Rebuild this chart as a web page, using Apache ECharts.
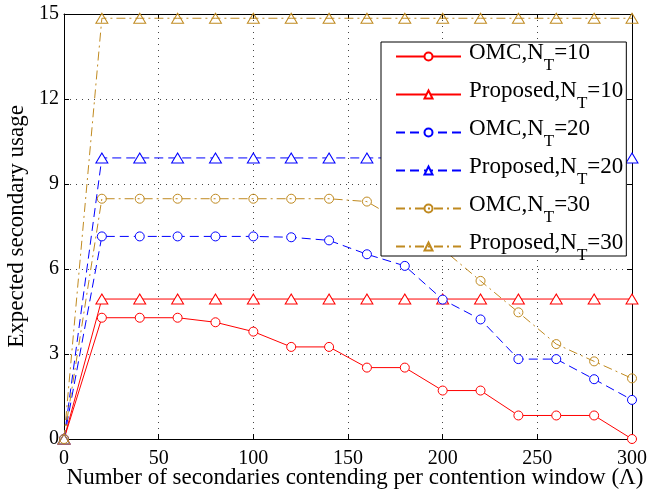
<!DOCTYPE html>
<html><head><meta charset="utf-8">
<script src="https://cdn.jsdelivr.net/npm/echarts@6/dist/echarts.min.js"></script>
<style>html,body{margin:0;padding:0;background:#fff}#c{width:647px;height:492px}</style>
</head><body><div id="c"></div>
<script>
const lambda = [0,20,40,60,80,100,120,140,160,180,200,220,240,260,280,300];
const omc10  = [0,4.28,4.28,4.28,4.12,3.79,3.25,3.25,2.52,2.52,1.71,1.71,0.83,0.83,0.83,0];
const prop10 = [0,4.94,4.94,4.94,4.94,4.94,4.94,4.94,4.94,4.94,4.94,4.94,4.94,4.94,4.94,4.94];
const omc20  = [0,7.15,7.15,7.15,7.15,7.15,7.12,7.01,6.52,6.11,4.92,4.22,2.82,2.82,2.11,1.38];
const prop20 = [0,9.92,9.92,9.92,9.92,9.92,9.92,9.92,9.92,9.92,9.92,9.92,9.92,9.92,9.92,9.92];
const omc30  = [0,8.48,8.48,8.48,8.48,8.48,8.48,8.48,8.38,7.6,6.7,5.58,4.47,3.35,2.74,2.14];
const prop30 = [0,14.85,14.85,14.85,14.85,14.85,14.85,14.85,14.85,14.85,14.85,14.85,14.85,14.85,14.85,14.85];
const seriesNames = ['OMC,N_T=10','Proposed,N_T=10','OMC,N_T=20','Proposed,N_T=20','OMC,N_T=30','Proposed,N_T=30'];
const xTicks = [0,50,100,150,200,250,300];
const yTicks = [0,3,6,9,12,15];
const xTitle = 'Number of secondaries contending per contention window (\u039B)';
const yTitle = 'Expected secondary usage';

const RED = '#ff0000', BLUE = '#0000ff', GOLD = '#c08a20';
const FONT = '"Liberation Serif", "Times New Roman", serif';
const pairs = d => d.map((v,i)=>[lambda[i], v]);

function mk(name, data, color, dash, symbol, fill) {
  return {
    name, type:'line', data: pairs(data), symbol, symbolSize: symbol==='circle' ? 9 : [12,10],
    showSymbol:true, animation:false,
    lineStyle:{color, width:1, type: dash},
    itemStyle:{color: fill, borderColor: color, borderWidth:1},
    emphasis:{disabled:true}
  };
}
const DASH = [9,5], DASHDOT = [9,4,2,4];
const series = [
  mk(seriesNames[0], omc10, RED, 'solid', 'circle', '#fff'),
  mk(seriesNames[1], prop10, RED, 'solid', 'triangle', '#fff'),
  mk(seriesNames[2], omc20, BLUE, DASH, 'circle', '#fff'),
  mk(seriesNames[3], prop20, BLUE, DASH, 'triangle', '#fff'),
  mk(seriesNames[4], omc30, GOLD, DASHDOT, 'circle', 'rgba(0,0,0,0)'),
  mk(seriesNames[5], prop30, GOLD, DASHDOT, 'triangle', 'rgba(0,0,0,0)')
];

const grid = {left:64, right:15, top:14, bottom:53, containLabel:false, outerBoundsMode:'none'};
const splitLine = {show:true, lineStyle:{color:'#444', type:[1,5], width:1}};
const axisLine = {show:true, onZero:false, lineStyle:{color:'#000', width:1}};
const tick = {show:true, inside:true, length:5, lineStyle:{color:'#000'}};

const chart = echarts.init(document.getElementById('c'), null, {renderer:'canvas'});
chart.setOption({
  animation:false,
  backgroundColor:'#fff',
  grid,
  xAxis:[{
    type:'value', min:xTicks[0], max:xTicks[xTicks.length-1], interval:50,
    name:xTitle, nameLocation:'middle', nameGap:27, nameMoveOverlap:false,
    nameTextStyle:{fontFamily:FONT, fontSize:23, color:'#000', padding:[0,0,0,14]},
    axisLine, axisTick:tick, splitLine,
    axisLabel:{fontFamily:FONT, fontSize:20, color:'#000', margin:10}
  },{
    type:'value', position:'top', min:0, max:300, interval:50,
    axisLine, axisTick:tick, splitLine:{show:false}, axisLabel:{show:false}
  }],
  yAxis:[{
    type:'value', min:yTicks[0], max:yTicks[yTicks.length-1], interval:3,
    name:yTitle, nameLocation:'middle', nameGap:35,
    nameTextStyle:{fontFamily:FONT, fontSize:23, color:'#000'},
    axisLine, axisTick:tick, splitLine,
    axisLabel:{fontFamily:FONT, fontSize:20, color:'#000', margin:5}
  },{
    type:'value', position:'right', min:0, max:15, interval:3,
    axisLine, axisTick:tick, splitLine:{show:false}, axisLabel:{show:false}
  }],
  legend:{
    data: seriesNames, orient:'vertical', left:381, top:42,
    itemWidth:65, itemHeight:10, itemGap:3,
    padding:[-3,3,-8,14],
    backgroundColor:'#fff', borderColor:'#000', borderWidth:1,
    selectedMode:false,
    formatter: n => { const p = n.split('_T'); return '{b|'+p[0]+'}{s|T}{a|'+p[1]+'}'; },
    textStyle:{
      fontFamily:FONT, color:'#000',
      rich:{
        a:{fontFamily:FONT, fontSize:23, lineHeight:23, padding:[0,0,8,0], color:'#000'},
        b:{fontFamily:FONT, fontSize:23, lineHeight:23, padding:[0,0,8,3], color:'#000'},
        s:{fontFamily:FONT, fontSize:17, lineHeight:12, padding:[18,0,0,0], color:'#000'}
      }
    }
  },
  series
});
</script></body></html>
